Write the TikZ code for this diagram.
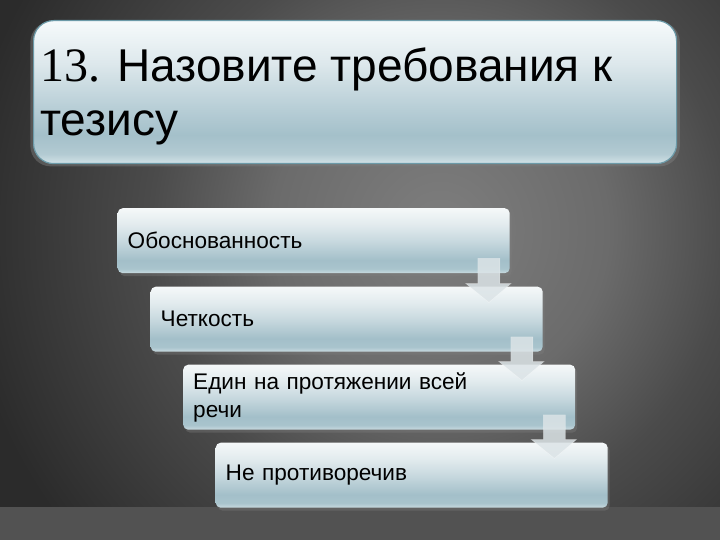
\documentclass[tikz,border=0pt]{standalone}
\usepackage{fontspec}
\setmainfont{Liberation Sans}
\newfontfamily\serifnum{Liberation Serif}
\usetikzlibrary{calc,shadows}
\definecolor{bgA}{HTML}{7E7E7E}
\definecolor{bgB}{HTML}{6B6B6B}
\definecolor{bgC}{HTML}{4B4B4B}
\definecolor{bgD}{HTML}{2B2B2B}
\definecolor{stripc}{HTML}{525252}
\definecolor{bx1}{HTML}{F5F8F9}
\definecolor{bx2}{HTML}{E2EBEE}
\definecolor{bx3}{HTML}{C8D9DF}
\definecolor{bx4}{HTML}{A3BFC9}
\definecolor{bx5}{HTML}{A9C4CD}
\definecolor{bx6}{HTML}{C9DBE0}
\definecolor{tb1}{HTML}{F6FAFB}
\definecolor{tb2}{HTML}{DDE8EC}
\definecolor{tb3}{HTML}{B9CFD7}
\definecolor{tb4}{HTML}{A4C0CA}
\definecolor{tb5}{HTML}{B2CAD2}
\definecolor{tb6}{HTML}{D2E2E7}
\definecolor{tbborder}{HTML}{6C9AA8}
\definecolor{arrowc}{HTML}{DCE4E7}
\pgfdeclareradialshading{bgshade}{\pgfpoint{0bp}{0bp}}{color(0bp)=(bgA); color(7.5bp)=(bgB); color(12.9bp)=(bgC); color(21.4bp)=(bgD); color(50bp)=(bgD)}
\pgfdeclareverticalshading{boxshade}{100bp}{color(0bp)=(bx6); color(25bp)=(bx6); color(28.5bp)=(bx5); color(35bp)=(bx4); color(50bp)=(bx3); color(62.5bp)=(bx2); color(75bp)=(bx1); color(100bp)=(bx1)}
\pgfdeclareverticalshading{titleshade}{100bp}{color(0bp)=(tb6); color(25bp)=(tb6); color(28.5bp)=(tb5); color(35bp)=(tb4); color(45bp)=(tb3); color(60bp)=(tb2); color(75bp)=(tb1); color(100bp)=(tb1)}
\tikzset{
  itembox/.style={shading=boxshade, rounded corners=5pt, anchor=north west,
    minimum width=392pt, minimum height=65pt, text width=372pt, inner xsep=10pt,
    align=left, font=\fontsize{22.6pt}{28pt}\selectfont, text=black,
    drop shadow={shadow xshift=2pt, shadow yshift=-3pt, opacity=0.35}},
  titlebox/.style={shading=titleshade, draw=tbborder, line width=1.2pt,
    rounded corners=20pt, anchor=north west, minimum width=643pt, minimum height=143pt,
    drop shadow={shadow xshift=0pt, shadow yshift=-2pt, shadow scale=1.01, opacity=0.45}},
  arrowst/.style={fill=arrowc, fill opacity=0.85, draw=white, draw opacity=0.35, line width=0.6pt}
}
\newcommand\blockarrow[2]{%
  \path[arrowst] ($(#1.south east)+(-32,-15)$) -- ($(#1.south east)+(-10,-15)$)
    -- ($(#1.east |- #2.north)+(-10,-3)$) -- ($(#1.east |- #2.north)+(1,-3)$)
    -- ($(#1.east |- #2.north)+(-21,16)$) -- ($(#1.east |- #2.north)+(-44,-3)$)
    -- ($(#1.east |- #2.north)+(-32,-3)$) -- cycle;}
\begin{document}
\begin{tikzpicture}[x=1pt,y=-1pt]
\useasboundingbox (0,0) rectangle (720,540);
\fill[bgD] (0,0) rectangle (720,540);
\begin{scope}
  \clip (0,0) rectangle (720,540);
  \shade[shading=bgshade] (440,230) circle[radius=560pt];
\end{scope}
\fill[stripc] (0,507) rectangle (720,540);
% title
\node[titlebox] (tb) at (33,20) {};
\node[anchor=base west, inner sep=0pt, align=left, font=\fontsize{46pt}{54pt}\selectfont, text=black]
  (tt) at ($(tb.north west)+(7,116)$) {{\serifnum\fontsize{48pt}{54pt}\selectfont 13.} Назовите требования к\\тезису};
% items
\node[itembox] (b1) at (117.5,208) {Обоснованность};
\node[itembox] (b2) at (150.5,286.5) {Четкость};
\node[itembox] (b3) at (183,364.5) {Един на протяжении всей\\речи};
\node[itembox] (b4) at (215.5,442.5) {Не противоречив};
% arrows
\blockarrow{b1}{b2}
\blockarrow{b2}{b3}
\blockarrow{b3}{b4}
\end{tikzpicture}
\end{document}
